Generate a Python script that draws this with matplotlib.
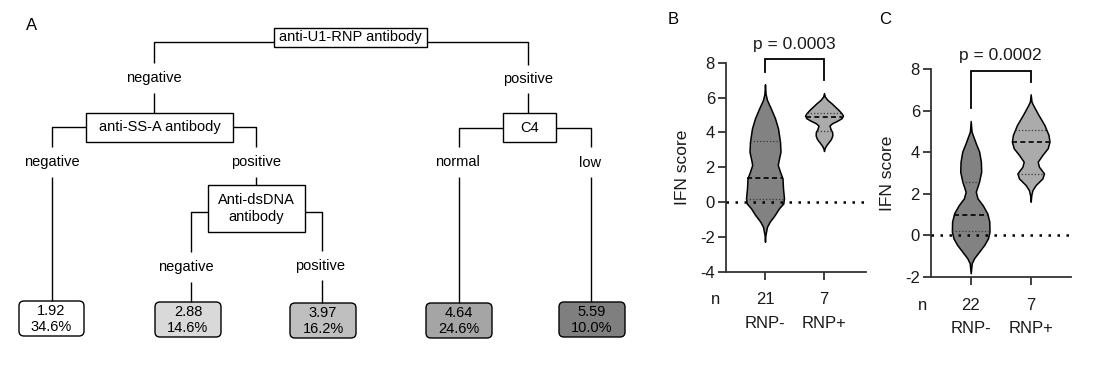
import numpy as np
import matplotlib
matplotlib.use("Agg")
import matplotlib.pyplot as plt
from matplotlib.patches import FancyBboxPatch, Rectangle

plt.rcParams['font.family'] = ['Liberation Sans', 'DejaVu Sans']
plt.rcParams['axes.unicode_minus'] = False

# ---------------- data ----------------
leaf_scores = [1.92, 2.88, 3.97, 4.64, 5.59]
leaf_pcts = [34.6, 14.6, 16.2, 24.6, 10.0]
leaf_colors = ['#ffffff', '#d9d9d9', '#bfbfbf', '#a5a5a5', '#7f7f7f']

groups = ['RNP-', 'RNP+']
b_counts = [21, 7]
c_counts = [22, 7]
b_pvalue = 'p = 0.0003'
c_pvalue = 'p = 0.0002'

# violin density profiles (IFN score level, relative density)
b_neg_y = [-2.28, -1.9, -1.42, -1.13, -0.75, -0.36, -0.08, 0.21, 0.79, 1.36, 1.74, 2.13, 2.41, 2.89, 3.47, 4.23, 4.81, 5.38, 5.86, 6.2, 6.76]
b_neg_d = [0, 0.4, 2, 4.7, 9.7, 14, 18.3, 19, 18, 17.5, 15, 12.8, 13.7, 15.5, 15, 13, 10, 5.8, 2, 0.6, 0]
b_pos_y = [2.93, 3.08, 3.24, 3.43, 3.62, 3.82, 4.01, 4.20, 4.39, 4.52, 4.66, 4.81, 4.96, 5.10, 5.29, 5.48, 5.67, 5.86, 6.06, 6.25]
b_pos_d = [0, 0.6, 2, 4.5, 7, 8.3, 8.2, 6.5, 5.5, 8, 13, 17.5, 19, 17.5, 14.5, 11, 7.5, 3.5, 0.8, 0]
c_neg_y = [-1.82, -1.34, -1.10, -0.78, -0.46, -0.14, 0.18, 0.66, 1.06, 1.46, 1.78, 2.10, 2.58, 3.06, 3.54, 4.03, 4.43, 4.83, 4.99, 5.50]
c_neg_d = [0, 1, 3.3, 8.3, 13.3, 17, 18.5, 18.3, 16.3, 11.7, 6.7, 5, 8.2, 10.3, 10, 8.3, 5, 2, 0.8, 0]
c_pos_y = [1.62, 1.94, 2.18, 2.42, 2.74, 2.98, 3.30, 3.54, 3.87, 4.19, 4.51, 4.83, 5.31, 5.79, 6.24, 6.43, 6.78]
c_pos_d = [0, 0.6, 1.8, 5, 11.7, 13.3, 8.3, 7, 11.7, 17, 18.8, 17.8, 13.7, 7.8, 2.7, 0.8, 0]

b_medians = [1.36, 4.90]
b_q1 = [0.19, 4.09]
b_q3 = [3.52, 5.13]
c_medians = [0.98, 4.48]
c_q1 = [0.21, 2.94]
c_q3 = [2.57, 5.05]

b_yticks = [-4, -2, 0, 2, 4, 6, 8]
c_yticks = [-2, 0, 2, 4, 6, 8]

# ---------------- tree layout (pixel space) ----------------
tree_boxes = [
    ('anti-U1-RNP antibody', 274, 28, 427, 47),
    ('anti-SS-A antibody', 86, 113, 233, 142),
    ('C4', 503, 113, 556, 142),
    ('Anti-dsDNA\nantibody', 208, 185, 305, 232),
]
tree_lines = [
    [(154, 63), (154, 42), (274, 42)], [(427, 42), (528, 42), (528, 65)],
    [(154, 93), (154, 113)], [(528, 93), (528, 113)],
    [(86, 127), (52, 127), (52, 147)], [(233, 127), (256, 127), (256, 147)],
    [(52, 177), (52, 301)], [(256, 177), (256, 185)],
    [(503, 128), (459, 128), (459, 147)], [(556, 128), (591, 128), (591, 147)],
    [(459, 177), (459, 303)], [(591, 177), (591, 302)],
    [(208, 212), (191, 212), (191, 252)], [(305, 212), (322, 212), (322, 251)],
    [(191, 282), (191, 302)], [(322, 280), (322, 303)],
]
branch_labels = [
    ('negative', 154, 78), ('positive', 528, 79),
    ('negative', 52, 162), ('positive', 256, 162),
    ('normal', 457, 162), ('low', 590, 163),
    ('negative', 186, 267), ('positive', 320, 266),
]
leaf_boxes = [(19, 301, 84, 336), (155, 302, 221, 337), (290, 303, 356, 338),
              (426, 303, 492, 338), (559, 302, 625, 337)]

W, H = 1097, 366
fig = plt.figure(figsize=(W / 100, H / 100), dpi=100)
fig.patch.set_facecolor('white')

ax0 = fig.add_axes([0, 0, 1, 1])
ax0.set_xlim(0, W)
ax0.set_ylim(H, 0)
ax0.axis('off')

for pts in tree_lines:
    xs, ys = zip(*pts)
    ax0.plot(xs, ys, color='black', lw=1.0, solid_capstyle='butt')
for txt, x0, y0, x1, y1 in tree_boxes:
    ax0.add_patch(Rectangle((x0, y0), x1 - x0, y1 - y0, facecolor='white',
                            edgecolor='black', lw=1.0))
    ax0.text((x0 + x1) / 2, (y0 + y1) / 2, txt, ha='center', va='center',
             fontsize=10.5, linespacing=1.2)
for txt, x, y in branch_labels:
    ax0.text(x, y, txt, ha='center', va='center', fontsize=10.5)
for (x0, y0, x1, y1), sc, pc, col in zip(leaf_boxes, leaf_scores, leaf_pcts, leaf_colors):
    ax0.add_patch(FancyBboxPatch((x0, y0), x1 - x0, y1 - y0,
                                 boxstyle='round,pad=0,rounding_size=5',
                                 facecolor=col, edgecolor='black', lw=1.0))
    ax0.text((x0 + x1) / 2, (y0 + y1) / 2 + 0.5, f'{sc:.2f}\n{pc:.1f}%',
             ha='center', va='center', fontsize=10.5, linespacing=1.2)

fig.text(32 / W, 1 - 25 / H, 'A', fontsize=12, ha='center', va='center')
fig.text(673 / W, 1 - 20 / H, 'B', fontsize=12, ha='center', va='center')
fig.text(885 / W, 1 - 20 / H, 'C', fontsize=12, ha='center', va='center')

fills = ['#828282', '#ababab']
spine_col = '#333333'


def violin_panel(rect, xlim, ylim, yticks, profiles, meds, q1s, q3s, width,
                 counts, pvalue, bracket, n_x):
    ax = fig.add_axes(rect)
    stats = []
    for (ys, ds), m in zip(profiles, meds):
        stats.append(dict(coords=np.array(ys, float), vals=np.array(ds, float),
                          mean=m, median=m, min=ys[0], max=ys[-1]))
    parts = ax.violin(stats, positions=[0, 1], widths=width, showmeans=False,
                      showextrema=False, showmedians=False)
    for body, fc in zip(parts['bodies'], fills):
        body.set_facecolor(fc)
        body.set_edgecolor('black')
        body.set_alpha(1)
        body.set_linewidth(1.1)
        body.set_zorder(2)
    for i, ((ys, ds), m, a, b) in enumerate(zip(profiles, meds, q1s, q3s)):
        dmax = max(ds)
        for val, ls, lw, col in [(m, (0, (3, 2)), 1.2, 'black'),
                                 (a, (0, (1, 1.6)), 0.9, '#3a3a3a'),
                                 (b, (0, (1, 1.6)), 0.9, '#3a3a3a')]:
            half = np.interp(val, ys, ds) / dmax * width / 2
            ax.plot([i - half, i + half], [val, val], ls=ls, lw=lw, color=col, zorder=3)
    ax.axhline(0, color='black', lw=1.8, ls=(0, (1, 2.6)), zorder=4)
    ax.set_xlim(*xlim)
    ax.set_ylim(*ylim)
    ax.set_yticks(yticks)
    ax.set_xticks([0, 1])
    ax.set_xticklabels([])
    for s in ['top', 'right']:
        ax.spines[s].set_visible(False)
    for s in ['left', 'bottom']:
        ax.spines[s].set_color(spine_col)
        ax.spines[s].set_linewidth(1.3)
    ax.tick_params(axis='both', colors=spine_col, width=1.3, length=6,
                   labelsize=12, labelcolor='#1a1a1a', pad=2)
    ax.set_ylabel('IFN score', fontsize=12.5, color='#1a1a1a')
    ax.yaxis.set_label_coords(-0.31, 0.5)
    ax.yaxis.label.set_va('center')
    for i, (c, g) in enumerate(zip(counts, groups)):
        ax.annotate(str(c), xy=(i, 0), xycoords=('data', 'axes fraction'),
                    xytext=(0, -20.2), textcoords='offset points',
                    ha='center', va='center', fontsize=12, color='#1a1a1a')
        ax.annotate(g, xy=(i, 0), xycoords=('data', 'axes fraction'),
                    xytext=(0, -37.4), textcoords='offset points',
                    ha='center', va='center', fontsize=12, color='#1a1a1a')
    ax.annotate('n', xy=(n_x, 0), xycoords=('data', 'axes fraction'),
                xytext=(0, -20.2), textcoords='offset points',
                ha='center', va='center', fontsize=12, color='#1a1a1a',
                annotation_clip=False)
    top, left_end, right_end, text_y = bracket
    ax.plot([0, 0, 1, 1], [left_end, top, top, right_end], color='black',
            lw=1.3, clip_on=False, solid_joinstyle='miter')
    ax.text(0.5, text_y, pvalue, ha='center', va='baseline', fontsize=12.5,
            color='#1a1a1a', clip_on=False)
    return ax


violin_panel([726 / W, 1 - 271.7 / H, 140 / W, 209 / H], (-0.661, 1.712), (-4, 8),
             b_yticks, [(b_neg_y, b_neg_d), (b_pos_y, b_pos_d)],
             b_medians, b_q1, b_q3, 0.644, b_counts, b_pvalue,
             (8.22, 7.47, 7.01, 8.79), -0.83)
violin_panel([931 / W, 1 - 277 / H, 140 / W, 208 / H], (-0.662, 1.672), (-2, 8),
             c_yticks, [(c_neg_y, c_neg_d), (c_pos_y, c_pos_d)],
             c_medians, c_q1, c_q3, 0.627, c_counts, c_pvalue,
             (7.92, 6.12, 7.37, 8.43), -0.795)

fig.savefig('out.png', dpi=100, facecolor='white')
